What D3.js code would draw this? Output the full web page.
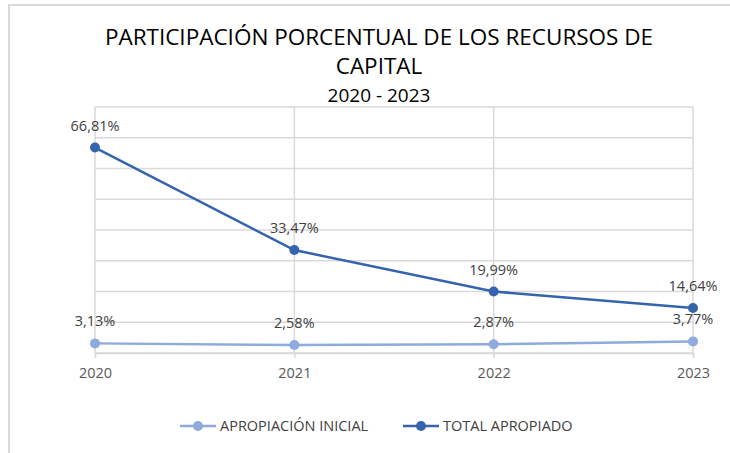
<!DOCTYPE html>
<html>
<head>
<meta charset="utf-8">
<script src="https://cdn.jsdelivr.net/npm/d3@7"></script>
<style>
  body { margin: 0; background: #fff; }
  svg { display: block; font-family: "Open Sans", "Noto Sans", sans-serif; }
</style>
</head>
<body>
<div id="chart"></div>
<script>
// chart data
const years = ["2020", "2021", "2022", "2023"];
const apropiacionInicial = [3.13, 2.58, 2.87, 3.77];
const totalApropiado = [66.81, 33.47, 19.99, 14.64];
const seriesNames = ["APROPIACIÓN INICIAL", "TOTAL APROPIADO"];
const yTicks = [0, 10, 20, 30, 40, 50, 60, 70, 80];

const COLORS = ["#8FAADC", "#3563AE"];

const W = 730, H = 453;
const margin = {top: 107, right: 37, bottom: 100, left: 95};
const w = W - margin.left - margin.right;
const h = H - margin.top - margin.bottom;

const svg = d3.select("#chart")
  .append("svg")
  .attr("width", W)
  .attr("height", H);

// outer frame of the chart
svg.append("rect")
  .attr("x", 9).attr("y", 5)
  .attr("width", W + 20).attr("height", H + 20)
  .attr("fill", "none")
  .attr("stroke", "#d9d9d9")
  .attr("stroke-width", 2);

// title
const title = svg.append("g").attr("fill", "#000");
title.append("text")
  .attr("x", 379).attr("y", 45)
  .attr("text-anchor", "middle")
  .style("font-size", "22.5px")
  .text("PARTICIPACIÓN PORCENTUAL DE LOS RECURSOS DE");
title.append("text")
  .attr("x", 379).attr("y", 74)
  .attr("text-anchor", "middle")
  .style("font-size", "22.5px")
  .text("CAPITAL");
title.append("text")
  .attr("x", 379).attr("y", 102)
  .attr("text-anchor", "middle")
  .style("font-size", "19px")
  .text("2020 - 2023");

const g = svg.append("g")
  .attr("transform", `translate(${margin.left},${margin.top})`);

// scales
const x = d3.scalePoint()
  .domain(years)
  .range([0, w]);

const y = d3.scaleLinear()
  .domain([0, 80])
  .range([h, 0]);

// horizontal gridlines
g.append("g")
  .selectAll("line")
  .data(yTicks)
  .enter()
  .append("line")
  .attr("x1", 0).attr("x2", w)
  .attr("y1", d => y(d)).attr("y2", d => y(d))
  .attr("stroke", "#d9d9d9")
  .attr("stroke-width", 1.5);

// vertical gridlines
g.append("g")
  .selectAll("line")
  .data(years)
  .enter()
  .append("line")
  .attr("x1", d => x(d)).attr("x2", d => x(d))
  .attr("y1", 0).attr("y2", h)
  .attr("stroke", "#d9d9d9")
  .attr("stroke-width", 1.5);

// X AXIS
const xAxis = g.append("g")
  .attr("transform", `translate(0, ${h})`)
  .call(d3.axisBottom(x).tickSize(5).tickPadding(10));
xAxis.select(".domain").attr("stroke", "#d9d9d9").attr("stroke-width", 1.5);
xAxis.selectAll(".tick line").attr("stroke", "#d9d9d9").attr("stroke-width", 1.5);
xAxis.selectAll("text")
  .attr("fill", "#595959")
  .style("font-size", "14.5px")
  .style("font-family", "'Open Sans', sans-serif");

const series = [apropiacionInicial, totalApropiado];

const line = d3.line()
  .x((d, i) => x(years[i]))
  .y(d => y(d));

series.forEach(function(values, s) {
  g.append("path")
    .datum(values)
    .attr("fill", "none")
    .attr("stroke", COLORS[s])
    .attr("stroke-width", 2.5)
    .attr("d", line);

  g.selectAll(".pt" + s)
    .data(values)
    .enter()
    .append("circle")
    .attr("cx", (d, i) => x(years[i]))
    .attr("cy", d => y(d))
    .attr("r", 5)
    .attr("fill", COLORS[s]);
});

// data labels
series.forEach(function(values, s) {
  g.selectAll(".lbl" + s)
    .data(values)
    .enter()
    .append("text")
    .attr("x", (d, i) => x(years[i]))
    .attr("y", d => y(d) - 17)
    .attr("text-anchor", "middle")
    .attr("fill", "#404040")
    .style("font-size", "14.5px")
    .text(d => d.toFixed(2).replace(".", ",") + "%");
});

// legend
const legendX = [180, 403];
const legend = svg.append("g");
seriesNames.forEach(function(name, s) {
  const lg = legend.append("g").attr("transform", `translate(${legendX[s]}, 426)`);
  lg.append("line")
    .attr("x1", 0).attr("x2", 36)
    .attr("stroke", COLORS[s])
    .attr("stroke-width", 2.5);
  lg.append("circle")
    .attr("cx", 18).attr("r", 5)
    .attr("fill", COLORS[s]);
  lg.append("text")
    .attr("x", 40).attr("y", 5)
    .attr("fill", "#404040")
    .style("font-size", "14.5px")
    .text(name);
});
</script>
</body>
</html>
